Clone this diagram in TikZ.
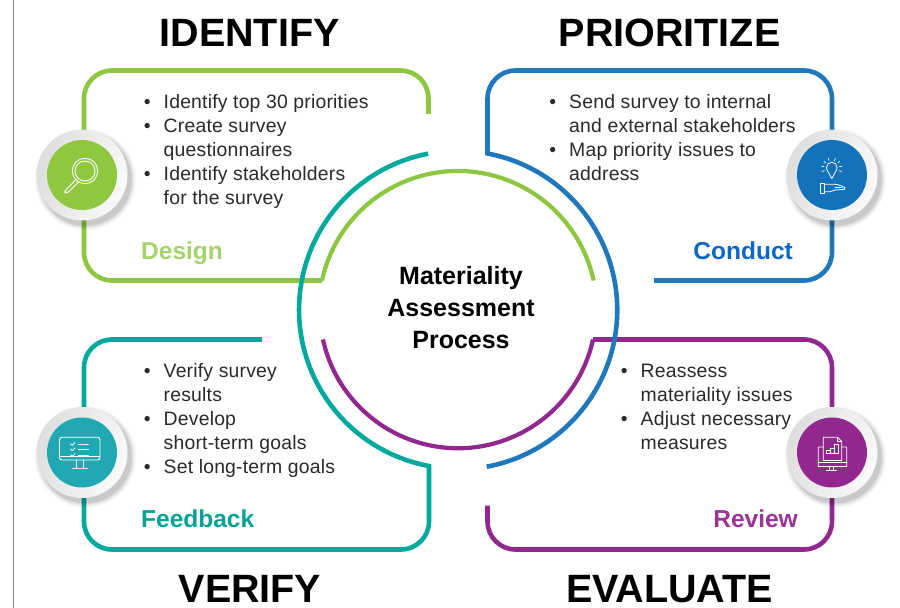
\documentclass[tikz,border=0pt]{standalone}
\usepackage{fontspec}
\setmainfont{Liberation Sans}
\newfontfamily\bodyfont[LetterSpace=1]{Liberation Sans}
\usetikzlibrary{calc}
\definecolor{cgreen}{HTML}{8DC63F}
\definecolor{cblue}{HTML}{1F78BE}
\definecolor{cteal}{HTML}{00A99D}
\definecolor{cpurple}{HTML}{92278F}
\definecolor{dgreen}{HTML}{8FC73E}
\definecolor{dblue}{HTML}{1472BA}
\definecolor{dteal}{HTML}{20A8B3}
\definecolor{lgreen}{HTML}{A3D36C}
\definecolor{lblue}{HTML}{0B66CC}
\definecolor{lteal}{HTML}{05A197}
\definecolor{lpurple}{HTML}{9B3399}
\definecolor{ink}{HTML}{2A2A2A}
\newcommand{\bul}{\leavevmode\llap{\textbullet\hspace{13pt}}}
\tikzset{
  x=1pt,y=1pt,
  frame/.style={line width=4.6pt,rounded corners=28pt,line join=miter},
  innerarc/.style={line width=4.2pt},
  body/.style={anchor=north west,inner sep=0pt,align=left,text=ink,font=\bodyfont\fontsize{19.4}{24}\selectfont},
  heading/.style={inner sep=0pt,font=\fontsize{39.5}{40}\selectfont\bfseries,text=black},
  tag/.style={inner sep=0pt,font=\fontsize{24.5}{26}\selectfont\bfseries,anchor=base},
  icon/.style={draw=white,line width=0.9pt,fill=none,line join=round,line cap=round},
  pics/badge/.style={code={
    \foreach \r/\o in {51/0.02,50/0.025,49/0.03,48/0.04,47/0.05,46/0.06}
      \fill[black,opacity=\o] (3.5,-4.5) circle[radius=\r];
    \shade[left color=black!13,right color=black!2,shading angle=70] (0,0) circle[radius=45.5];
    \fill[#1] (0,0) circle[radius=35];
  }}
}
\begin{document}
\begin{tikzpicture}
\useasboundingbox (0,0) rectangle (900,608);
\fill[white] (0,0) rectangle (900,608);
\coordinate (topL) at (13.5,608);
\coordinate (botL) at (13.5,0);
\draw[black!50,line width=1.5pt] (topL) -- (botL);

% inner arcs and frames
\draw[cgreen,frame] (428.5,494) -- (428.5,537.5) -- (84,537.5) -- (84,327.5) [sharp corners] -- (322,327.5);
\draw[cgreen,innerarc] (322,327.5) arc[start angle=167.76,end angle=12.24,radius=139];
\draw[cpurple,frame] (487.5,102.3) -- (487.5,58.5) -- (832,58.5) -- (832,268.5) [sharp corners] -- (593,268.5);
\draw[cpurple,innerarc] (593,268.5) arc[start angle=-12.3,end angle=-167.7,radius=138.2];
\draw[cteal,frame] (262,268.5) -- (84,268.5) -- (84,58.5) -- (429,58.5) [sharp corners] -- (429,142)
  arc[start angle=259.5,end angle=100.8,radius=158.9];
\draw[cblue,frame] (654,327.5) -- (832,327.5) -- (832,537.5) -- (487.5,537.5) [sharp corners] -- (487.5,454.5)
  arc[start angle=79.3,end angle=-79.6,radius=159.3];

% badges
\pic at (82,433) {badge=dgreen};
\pic at (832,433) {badge=dblue};
\pic at (82,155.5) {badge=dteal};
\pic at (832,155.5) {badge=cpurple};

% magnifier
\draw[icon] (85,437) circle[radius=12.7];
\draw[icon] (85,437) circle[radius=10];
\draw[icon,rounded corners=1.8pt] (76.5,429) -- (68.8,421) -- (65.4,417.6) -- (64.6,415.6) -- (66.5,414.8) -- (69,416.5) -- (76.5,424) -- (79,426.5);
% bulb and hand
\draw[icon,line width=0.8pt] (829,434.5) .. controls (829,436) and (826.5,437) .. (826.5,440.5)
  arc[start angle=180,end angle=0,radius=5.3] .. controls (837.1,437) and (834.6,436) .. (834.6,434.5) -- (831.8,429.5) -- cycle;
\foreach \a in {-20,10,40,70,110,140,170,200}
  \draw[icon,line width=0.7pt] ($(831.8,440)+(\a:7.8)$) -- ($(831.8,440)+(\a:10.3)$);
\draw[icon,line width=0.8pt] (820,424.5) rectangle (824.7,414.5);
\draw[icon,line width=0.8pt] (824.7,423.7) -- (835,423.7) .. controls (838,423.7) and (842,421.8) .. (845,420.3)
  -- (844.3,418.7) -- (835,418) -- (830,416.3) -- (824.7,416.3);
\draw[icon,line width=0.7pt] (835,420.6) -- (842,420.4);
% monitor checklist
\draw[icon,rounded corners=2.5pt] (59.5,148) -- (59.5,170.7) -- (100,170.7) -- (100,148) -- cycle;
\draw[icon] (59.5,151.5) -- (100,151.5);
\draw[icon] (76.7,148) -- (76.7,139.5) (83.3,148) -- (83.3,139.5) (72.7,139.5) -- (87.3,139.5);
\foreach \y in {164,158.7,153} {
  \draw[icon,line width=0.8pt] (70.7,\y) -- (72.2,\y-1.3) -- (75,\y+1.3);
  \draw[icon] (78.3,\y-0.4) -- (88.3,\y-0.4);
}
% document on monitor
\draw[icon,line width=0.8pt] (823.3,147.5) -- (823.3,170.7) -- (837.5,170.7) -- (841.7,166.5) -- (841.7,147.5) -- cycle;
\draw[icon,line width=0.7pt] (837.5,170.7) -- (837.5,166.5) -- (841.7,166.5);
\draw[icon,line width=0.8pt] (823.3,161) -- (819,161) -- (818.2,160) -- (818.2,141.5) -- (846.8,141.5) -- (846.8,160) -- (846,161) -- (841.7,161);
\draw[icon,line width=0.8pt] (818.2,146) -- (846.8,146);
\draw[icon,line width=0.8pt] (829.5,141.5) -- (829.5,138) (833.5,141.5) -- (833.5,138) (826.5,138) -- (836.5,138);
\draw[icon,line width=0.8pt] (826,155) -- (838.5,155)
  (826,155) -- (826,157.5) -- (830,157.5) -- (830,155)
  (830,159.5) -- (834,159.5) -- (834,155) (830,155) -- (830,159.5)
  (834,164) -- (838.5,164) -- (838.5,155) (834,155) -- (834,164);

% headings
\node[heading] (hident) at (249.5,575) {IDENTIFY};
\node[heading] (hprior) at (669.5,575) {PRIORITIZE};
\node[heading] (hverif) at (250,19) {VERIFY};
\node[heading] (heval) at (669.5,19) {EVALUATE};

% centre
\node[inner sep=0pt,align=center,font=\fontsize{25}{32}\selectfont\bfseries] (centre) at (461,300)
  {Materiality\\Assessment\\Process};

% bullets
\node[body] (bdesign) at (163.5,513.5) {\bul Identify top 30 priorities\\\bul Create survey\\questionnaires\\\bul Identify stakeholders\\for the survey};
\node[body] (bconduct) at (569,513.5) {\bul Send survey to internal\\and external stakeholders\\\bul Map priority issues to\\address};
\node[body] (bfeed) at (163.5,244.5) {\bul Verify survey\\results\\\bul Develop\\short-term goals\\\bul Set long-term goals};
\node[body] (breview) at (640.5,244.5) {\bul Reassess\\materiality issues\\\bul Adjust necessary\\measures};

% tags
\node[tag,anchor=base west,text=lgreen] (tdesign) at (141,348.5) {Design};
\node[tag,anchor=base east,text=lblue] (tconduct) at (793,348.5) {Conduct};
\node[tag,anchor=base west,text=lteal] (tfeed) at (141,80) {Feedback};
\node[tag,anchor=base east,text=lpurple] (treview) at (798,80) {Review};
\end{tikzpicture}
\end{document}
